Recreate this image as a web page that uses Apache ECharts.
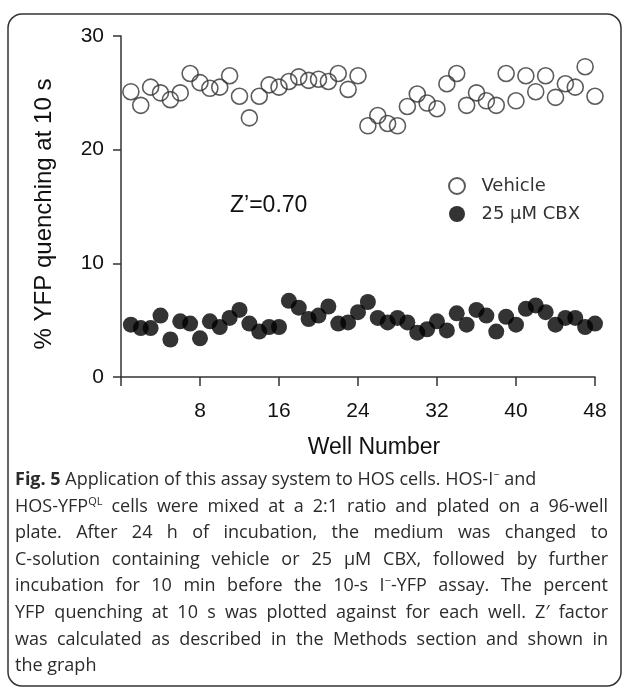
<!DOCTYPE html>
<html>
<head>
<meta charset="utf-8">
<script src="https://cdn.jsdelivr.net/npm/echarts@6/dist/echarts.min.js"></script>
<style>
html,body{margin:0;padding:0;background:#fff;}
#chart{position:absolute;left:0;top:0;width:629px;height:688px;}
#cap{position:absolute;left:15px;top:465px;width:593px;font-family:"Open Sans",sans-serif;font-size:18px;line-height:26.6px;color:#2b2b2b;}
#cap div{white-space:nowrap;}
#cap .j{text-align:justify;text-align-last:justify;white-space:normal;}
#cap b{font-weight:700;}
sup{font-size:11px;line-height:0;vertical-align:7px;}
</style>
</head>
<body>
<div id="chart"></div>
<div id="cap">
<div><b>Fig. 5</b> Application of this assay system to HOS cells. HOS-I<sup>−</sup> and</div>
<div class="j">HOS-YFP<sup>QL</sup> cells were mixed at a 2:1 ratio and plated on a 96-well</div>
<div class="j">plate. After 24 h of incubation, the medium was changed to</div>
<div class="j">C-solution containing vehicle or 25 μM CBX, followed by further</div>
<div class="j">incubation for 10 min before the 10-s I<sup>−</sup>-YFP assay. The percent</div>
<div class="j">YFP quenching at 10 s was plotted against for each well. Z′ factor</div>
<div class="j">was calculated as described in the Methods section and shown in</div>
<div>the graph</div>
</div>
<script>
var wells = [];
for (var i = 1; i <= 48; i++) wells.push(i);
var vehicle = [25.1,23.9,25.5,25.0,24.4,25.0,26.7,25.9,25.4,25.5,26.5,24.7,22.8,24.7,25.7,25.5,26.0,26.4,26.1,26.2,26.0,26.7,25.3,26.5,
               22.1,23.0,22.3,22.1,23.8,24.9,24.1,23.6,25.8,26.7,23.9,25.0,24.3,23.9,26.7,24.3,26.5,25.1,26.5,24.6,25.8,25.5,27.3,24.7];
var cbx = [4.6,4.3,4.3,5.4,3.3,4.9,4.7,3.4,4.9,4.4,5.2,5.9,4.7,4.0,4.4,4.4,6.7,6.1,5.1,5.4,6.2,4.7,4.8,5.7,
           6.6,5.2,4.8,5.2,4.8,3.9,4.2,4.9,4.1,5.6,4.6,5.9,5.4,4.0,5.3,4.6,6.0,6.3,5.7,4.6,5.2,5.2,4.4,4.7];
var xTicks = {min:0, max:48, interval:8};
var yTicks = {min:0, max:30, interval:10};
var names = ['Vehicle','25 μM CBX'];
var yTitle = '% YFP quenching at 10 s';
var xTitle = 'Well Number';
var zLabel = 'Z’=0.70';

function pairs(ys){ return wells.map(function(w,i){ return [w, ys[i]]; }); }

var chart = echarts.init(document.getElementById('chart'), null, {renderer:'canvas'});
var axisCol = '#333';
var fam = 'Liberation Sans, Arial';
chart.setOption({
  animation:false,
  backgroundColor:'#fff',
  grid:{left:121, right:34, top:36, bottom:311, containLabel:false},
  xAxis:{
    type:'value', min:xTicks.min, max:xTicks.max, interval:xTicks.interval,
    axisLine:{show:true, onZero:false, lineStyle:{color:axisCol, width:1.5}},
    axisTick:{show:true, length:9, lineStyle:{color:axisCol, width:1.5}},
    axisLabel:{margin:24, fontSize:21, color:'#111', fontFamily:fam,
      formatter:function(v){ return v === 0 ? '' : v; }},
    splitLine:{show:false},
    name:xTitle, nameLocation:'middle', nameGap:59,
    nameTextStyle:{fontSize:23, color:'#111', fontFamily:fam, padding:[0,0,0,32]}
  },
  yAxis:{
    type:'value', min:yTicks.min, max:yTicks.max, interval:yTicks.interval,
    axisLine:{show:true, lineStyle:{color:axisCol, width:1.5}},
    axisTick:{show:true, length:8, lineStyle:{color:axisCol, width:1.5}},
    axisLabel:{margin:17, fontSize:21, color:'#111', fontFamily:fam},
    splitLine:{show:false},
    name:yTitle, nameLocation:'middle', nameGap:65,
    nameTextStyle:{fontSize:24, color:'#111', fontFamily:fam, padding:[0,15,0,0]}
  },
  legend:{
    orient:'vertical', left:448, top:177, itemWidth:16, itemHeight:16, itemGap:10,
    padding:0,
    formatter:function(n){ return '  ' + n; },
    textStyle:{fontFamily:'DejaVu Sans', fontSize:18, color:'#333'},
    data:names
  },
  series:[
    {name:names[0], type:'scatter', symbol:'circle', symbolSize:16, data:pairs(vehicle),
     itemStyle:{color:'rgba(255,255,255,0)', borderColor:'#333', borderWidth:1.6}},
    {name:names[1], type:'scatter', symbol:'circle', symbolSize:16, data:pairs(cbx),
     itemStyle:{color:'#000', borderWidth:0}}
  ],
  graphic:[
    {type:'rect', z:-10, shape:{x:8, y:14, width:613, height:672, r:14},
     style:{fill:'none', stroke:'#333', lineWidth:1.5}},
    {type:'text', left:230, top:194,
     style:{text:zLabel, font:'23px "Liberation Sans", Arial', fill:'#111'}}
  ]
});
</script>
</body>
</html>
